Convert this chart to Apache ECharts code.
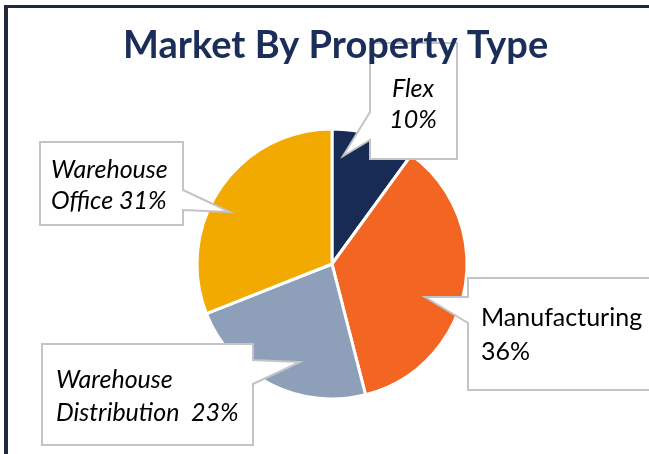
<!DOCTYPE html>
<html>
<head>
<meta charset="utf-8">
<script src="https://cdn.jsdelivr.net/npm/echarts@6/dist/echarts.min.js"></script>
<style>
  html, body { margin: 0; padding: 0; background: #fff; }
  #chart { width: 649px; height: 454px; }
</style>
</head>
<body>
<div id="chart"></div>
<script>
// slice data, clockwise from 12 o'clock
const names = ['Flex', 'Manufacturing', 'Warehouse Distribution', 'Warehouse Office']
const values = [10, 36, 23, 31]
const colors = ['#172b54', '#f26522', '#8e9fba', '#f2a900']

// callout text lines for each slice
const calloutLines = [
    ['Flex', values[0] + '%'],
    ['Manufacturing', values[1] + '%'],
    ['Warehouse', 'Distribution  ' + values[2] + '%'],
    ['Warehouse', 'Office ' + values[3] + '%']
]

// callout boxes (box outline + pointer), text anchor, alignment
const callouts = [
    { pts: [[370,43],[457,43],[457,159],[370,159],[370,140],[343,156],[370,112]], tx: 413, ty: 89, align: 'center', italic: true, gap: 31 },
    { pts: [[468,278],[660,278],[660,390],[468,390],[468,323],[425,297],[468,297]], tx: 481, ty: 318, align: 'left', italic: false, gap: 34 },
    { pts: [[42,344],[253,344],[253,360],[300,362],[253,384],[253,445],[42,445]], tx: 56, ty: 380, align: 'left', italic: true, gap: 33 },
    { pts: [[40,142],[183,142],[183,190],[230,212],[183,210],[183,225],[40,225]], tx: 51, ty: 170, align: 'left', italic: true, gap: 31 }
]

const chart = echarts.init(document.getElementById('chart'))

const graphics = [
    // frame: top and left bars
    { type: 'rect', shape: { x: 4, y: 5, width: 645, height: 3 }, style: { fill: '#1f2a38' }, z: 200 },
    { type: 'rect', shape: { x: 4, y: 5, width: 4, height: 449 }, style: { fill: '#1f2a38' }, z: 200 }
]

callouts.forEach((c, i) => {
    graphics.push({
        type: 'polygon',
        shape: { points: c.pts },
        style: { fill: '#fff', stroke: '#c4c4c4', lineWidth: 2 },
        z: 100
    })
    calloutLines[i].forEach((line, j) => {
        graphics.push({
            type: 'text',
            x: c.tx,
            y: c.ty + j * c.gap,
            style: {
                text: line,
                fill: '#000',
                font: (c.italic ? 'italic ' : '') + '25px Lato',
                textAlign: c.align,
                textVerticalAlign: 'middle'
            },
            z: 110
        })
    })
})

const options = {
    backgroundColor: '#fff',
    title: {
        text: 'Market By Property Type',
        left: 118,
        top: 22,
        z: 150,
        textStyle: {
            fontFamily: 'Lato',
            fontWeight: 'bold',
            fontSize: 38,
            color: '#1b2e5a'
        }
    },
    color: colors,
    graphic: graphics,
    series: [
        {
            type: 'pie',
            center: [332, 264],
            radius: 135,
            startAngle: 90,
            clockwise: true,
            silent: true,
            label: { show: false },
            labelLine: { show: false },
            itemStyle: { borderColor: '#fff', borderWidth: 3 },
            data: names.map((n, i) => ({ name: n, value: values[i] }))
        }
    ]
}

chart.setOption(options)
</script>
</body>
</html>
